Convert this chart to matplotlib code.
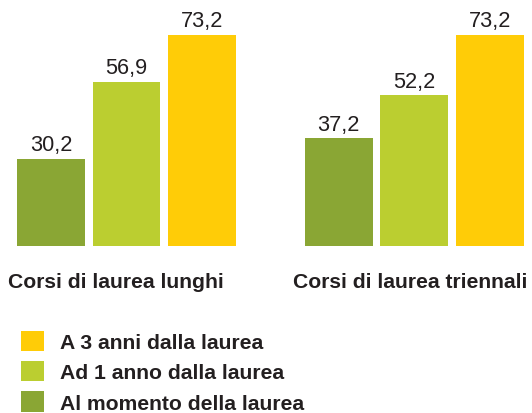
import numpy as np
import matplotlib
matplotlib.use("Agg")
import matplotlib.pyplot as plt
from matplotlib.patches import Patch

# data
groups = ["Corsi di laurea lunghi", "Corsi di laurea triennali"]
series = ["Al momento della laurea", "Ad 1 anno dalla laurea", "A 3 anni dalla laurea"]
values = {
    "Al momento della laurea": [30.2, 37.2],
    "Ad 1 anno dalla laurea": [56.9, 52.2],
    "A 3 anni dalla laurea": [73.2, 73.2],
}
colors = ["#8AA634", "#BBCE30", "#FFCC07"]
text_color = "#231F20"

plt.rcParams['font.family'] = ['Liberation Sans', 'DejaVu Sans']

fig = plt.figure(figsize=(5.32, 4.14), dpi=100)
ax = fig.add_axes([0, 0.404, 1, 0.596])

group_gap = 3.81
width = 0.9
for i, name in enumerate(series):
    xs = np.arange(len(groups)) * group_gap + i
    bars = ax.bar(xs, values[name], width=width, color=colors[i], linewidth=0)
    for b, v in zip(bars, values[name]):
        ax.text(b.get_x() + b.get_width() / 2, v + 1.2, f"{v:.1f}".replace(".", ","),
                ha="center", va="bottom", fontsize=15.7, color=text_color)

ax.set_xlim(-0.675, 6.37)
ax.set_ylim(0, 85.56)
ax.axis("off")

# group labels
fig.text(116 / 532, 1 - 282 / 414, groups[0], ha="center", va="center",
         fontsize=15.2, fontweight="bold", color=text_color)
fig.text(410 / 532, 1 - 282 / 414, groups[1], ha="center", va="center",
         fontsize=15.2, fontweight="bold", color=text_color)

# legend, top entry is the last series
handles = [Patch(color=colors[i], linewidth=0) for i in reversed(range(3))]
labels = list(reversed(series))
leg = fig.legend(handles, labels, loc="upper left",
                 bbox_to_anchor=(21 / 532, 1 - 332 / 414), frameon=False,
                 borderpad=0, borderaxespad=0, handlelength=1.1, handleheight=1.1,
                 handletextpad=0.75, labelspacing=0.42,
                 prop={"size": 15.2, "weight": "bold"})
for t in leg.get_texts():
    t.set_color(text_color)

fig.savefig("out.png", dpi=100, facecolor="white")
